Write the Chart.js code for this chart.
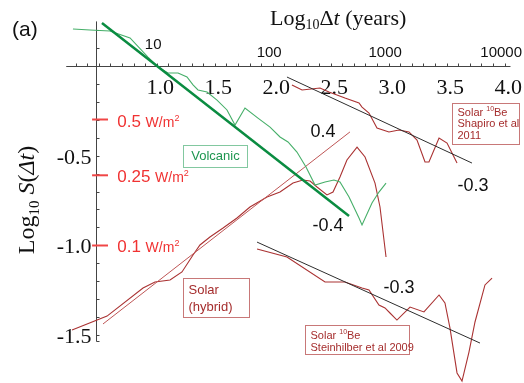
<!DOCTYPE html>
<html>
<head>
<meta charset="utf-8">
<script src="https://cdn.jsdelivr.net/npm/chart.js@4.4.0/dist/chart.umd.min.js"></script>
<style>
  html, body { margin: 0; padding: 0; background: #fff; }
</style>
</head>
<body>
<canvas id="sdtChart" width="524" height="383"></canvas>
<script>
// x: log10 of the time scale in years, y: log10 S(dt)
var volcanic = [[0.278,0.203],[0.425,0.197],[0.597,0.192],[0.770,0.153],[0.925,0.047],[1.011,-0.008],
  [1.097,-0.042],[1.184,-0.042],[1.261,-0.064],[1.313,-0.108],[1.356,-0.136],[1.434,-0.147],[1.520,-0.192],
  [1.606,-0.247],[1.675,-0.331],[1.761,-0.236],[1.873,-0.292],[1.977,-0.342],[2.063,-0.397],[2.132,-0.425],
  [2.209,-0.481],[2.287,-0.564],[2.365,-0.664],[2.451,-0.647],[2.528,-0.636],[2.580,-0.647],[2.658,-0.731],
  [2.744,-0.847],[2.770,-0.886],[2.856,-0.764],[2.916,-0.703],[2.977,-0.653]];
var volcanicFit = [[0.528,0.236],[2.658,-0.836]];

var solarHybrid = [[0.270,-1.469],[0.572,-1.392],[0.882,-1.236],[0.985,-1.203],[1.115,-1.192],[1.218,-1.147],
  [1.313,-1.053],[1.373,-0.997],[1.459,-0.953],[1.572,-0.903],[1.692,-0.847],[1.804,-0.786],[1.951,-0.731],
  [2.063,-0.703],[2.175,-0.653],[2.261,-0.636],[2.322,-0.642],[2.382,-0.675],[2.468,-0.719],[2.520,-0.703],
  [2.580,-0.619],[2.640,-0.525],[2.727,-0.453],[2.796,-0.508],[2.882,-0.653],[2.925,-0.786],[2.977,-1.064]];
var solarHybridFit = [[0.537,-1.436],[2.666,-0.369]];

var shapiro = [[2.166,-0.108],[2.253,-0.136],[2.408,-0.125],[2.485,-0.147],[2.623,-0.181],[2.744,-0.208],
  [2.770,-0.231],[2.830,-0.264],[2.899,-0.347],[3.002,-0.369],[3.089,-0.358],[3.175,-0.369],[3.244,-0.414],
  [3.313,-0.536],[3.347,-0.536],[3.434,-0.403],[3.503,-0.431],[3.589,-0.542]];
var shapiroFit = [[2.123,-0.064],[3.718,-0.542]];

var steinhilber = [[1.865,-1.019],[2.123,-1.064],[2.451,-1.203],[2.623,-1.203],[2.770,-1.236],[2.830,-1.247],
  [2.916,-1.331],[2.968,-1.347],[3.011,-1.375],[3.071,-1.414],[3.184,-1.342],[3.304,-1.369],[3.434,-1.275],
  [3.485,-1.319],[3.528,-1.458],[3.589,-1.708],[3.632,-1.753],[3.692,-1.592],[3.744,-1.425],[3.830,-1.219],
  [3.891,-1.181]];
var steinhilberFit = [[1.865,-0.981],[3.787,-1.542]];

var logTicks = [1.0, 1.5, 2.0, 2.5, 3.0, 3.5, 4.0];
var yearTicks = [10, 100, 1000, 10000];
var sTicks = [-0.5, -1.0, -1.5];
var forcingLevels = [-0.30, -0.61, -1.0];
var forcingLabels = ['0.5', '0.25', '0.1'];
var AXIS_X0 = Math.log10(3); // vertical axis sits at 3 years

var SERIF = '"Liberation Serif", "DejaVu Serif", serif';
var SANS = '"Liberation Sans", Arial, sans-serif';

function series(points, color, width) {
  return {
    data: points.map(function (p) { return { x: p[0], y: p[1] }; }),
    borderColor: color, borderWidth: width, showLine: true,
    pointRadius: 0, fill: false, tension: 0
  };
}

// draws a row of text runs (font / vertical shift per run), returns total width
function drawRuns(ctx, runs, x, y, measureOnly) {
  var w = 0;
  runs.forEach(function (r) {
    ctx.font = r.font;
    if (!measureOnly) ctx.fillText(r.t, x + w, y + (r.dy || 0));
    w += ctx.measureText(r.t).width;
  });
  return w;
}

var axesPlugin = {
  id: 'axes',
  beforeDatasetsDraw: function (chart) {
    var ctx = chart.ctx, xs = chart.scales.x, ys = chart.scales.y;
    var X = function (v) { return xs.getPixelForValue(v); };
    var Y = function (v) { return ys.getPixelForValue(v); };
    ctx.save();
    ctx.strokeStyle = '#444';
    ctx.lineWidth = 1;
    ctx.beginPath();
    var y0 = Math.round(Y(0)) + 0.5;
    ctx.moveTo(X(0.22), y0);
    ctx.lineTo(X(4.05), y0);
    for (var t = 3; t <= 40; t++) {
      var px = Math.round(X(t / 10)) + 0.5;
      ctx.moveTo(px, y0);
      ctx.lineTo(px, y0 - 3);
    }
    var x0 = Math.round(X(AXIS_X0)) + 0.5;
    var yBot = Math.round(Y(-1.53)) + 0.5;
    ctx.moveTo(x0, Y(0.245));
    ctx.lineTo(x0, yBot);
    ctx.lineTo(x0 + 3, yBot);
    for (var s = 2; s >= -15; s--) {
      var py = Math.round(Y(s / 10)) + 0.5;
      ctx.moveTo(x0, py);
      ctx.lineTo(x0 + 3, py);
    }
    ctx.stroke();

    ctx.fillStyle = '#111';
    ctx.textBaseline = 'alphabetic';
    ctx.font = '22px ' + SERIF;
    ctx.textAlign = 'center';
    logTicks.forEach(function (v) {
      ctx.fillText(v.toFixed(1), X(v) + 3.5, y0 + 27);
    });
    ctx.textAlign = 'right';
    sTicks.forEach(function (v) {
      ctx.fillText(v.toFixed(1), x0 - 5, Y(v) + 8);
    });
    ctx.textAlign = 'center';
    ctx.font = '15px ' + SANS;
    yearTicks.forEach(function (v) {
      var lift = v === 10 ? 8 : 0;
      ctx.fillText(String(v), X(Math.log10(v)) - 3.5, y0 - 10 - lift);
    });

    // axis titles
    ctx.textAlign = 'left';
    var xTitle = [
      { t: 'Log', font: '22px ' + SERIF },
      { t: '10', font: '14px ' + SERIF, dy: 4 },
      { t: '\u0394', font: '22px ' + SERIF },
      { t: 't', font: 'italic 22px ' + SERIF },
      { t: ' (years)', font: '22px ' + SERIF }
    ];
    drawRuns(ctx, xTitle, 270, 25);

    var yTitle = [
      { t: 'Log', font: '24px ' + SERIF },
      { t: '10', font: '15px ' + SERIF, dy: 5 },
      { t: ' ', font: '24px ' + SERIF },
      { t: 'S', font: 'italic 24px ' + SERIF },
      { t: '(', font: '24px ' + SERIF },
      { t: '\u0394t', font: 'italic 24px ' + SERIF },
      { t: ')', font: '24px ' + SERIF }
    ];
    ctx.save();
    ctx.translate(34, 200);
    ctx.rotate(-Math.PI / 2);
    var w = drawRuns(ctx, yTitle, 0, 0, true);
    drawRuns(ctx, yTitle, -w / 2, 0);
    ctx.restore();

    ctx.font = '21px ' + SANS;
    ctx.fillText('(a)', 12, 36);
    ctx.restore();
  }
};

var notesPlugin = {
  id: 'notes',
  afterDatasetsDraw: function (chart) {
    var ctx = chart.ctx, xs = chart.scales.x, ys = chart.scales.y;
    var X = function (v) { return xs.getPixelForValue(v); };
    var Y = function (v) { return ys.getPixelForValue(v); };
    ctx.save();
    ctx.textBaseline = 'alphabetic';
    ctx.textAlign = 'left';

    // forcing amplitude markers on the S axis
    ctx.strokeStyle = 'rgb(240,70,70)';
    ctx.fillStyle = 'rgb(240,50,50)';
    ctx.lineWidth = 2;
    forcingLevels.forEach(function (v, i) {
      var py = Y(v);
      ctx.beginPath();
      ctx.moveTo(X(0.443), py);
      ctx.lineTo(X(0.580), py);
      ctx.stroke();
      drawRuns(ctx, [
        { t: forcingLabels[i] + ' ', font: '17px ' + SANS },
        { t: 'W/m', font: '14px ' + SANS },
        { t: '2', font: '9px ' + SANS, dy: -6 }
      ], X(0.66), py + 7);
    });

    // fitted slopes
    ctx.fillStyle = '#111';
    ctx.font = '18px ' + SANS;
    ctx.textAlign = 'center';
    ctx.textBaseline = 'middle';
    [['0.4', 2.434, -0.369], ['-0.4', 2.477, -0.892], ['-0.3', 3.727, -0.669], ['-0.3', 3.088, -1.236]]
      .forEach(function (n) { ctx.fillText(n[0], X(n[1]), Y(n[2])); });

    // series boxes: corners in data units, text lines offset from the top edge
    function box(x1, y1, x2, y2, lines, color, border, font, first, gap, centred) {
      var l = Math.round(X(x1)) + 0.5, t = Math.round(Y(y1)) + 0.5;
      var r = Math.round(X(x2)) + 0.5, b = Math.round(Y(y2)) + 0.5;
      ctx.fillStyle = '#fff';
      ctx.fillRect(l, t, r - l, b - t);
      ctx.strokeStyle = border;
      ctx.lineWidth = 1;
      ctx.strokeRect(l, t, r - l, b - t);
      ctx.fillStyle = color;
      ctx.textBaseline = 'middle';
      lines.forEach(function (runs, i) {
        var ty = t + first + i * gap;
        if (centred) {
          var w = drawRuns(ctx, runs, 0, 0, true);
          drawRuns(ctx, runs, (l + r) / 2 - w / 2, ty);
        } else {
          drawRuns(ctx, runs, l + 5, ty);
        }
      });
    }
    ctx.textAlign = 'left';
    var f13 = '13px ' + SANS, f11 = '11px ' + SANS, f7 = '7px ' + SANS;
    var red = 'rgb(165,45,45)', redBorder = 'rgb(200,120,120)';
    box(1.227, -0.442, 1.778, -0.564, [[{ t: 'Volcanic', font: f13 }]],
      'rgb(30,150,80)', 'rgb(130,200,160)', f13, 11, 0, true);
    box(1.227, -1.181, 1.796, -1.397, [[{ t: 'Solar', font: f13 }], [{ t: '(hybrid)', font: f13 }]],
      red, redBorder, f13, 12, 17, false);
    box(3.546, -0.208, 4.124, -0.436, [
      [{ t: 'Solar ', font: f11 }, { t: '10', font: f7, dy: -3 }, { t: 'Be', font: f11 }],
      [{ t: 'Shapiro et al', font: f11 }],
      [{ t: '2011', font: f11 }]
    ], red, redBorder, f11, 9, 11.5, false);
    box(2.278, -1.442, 3.175, -1.603, [
      [{ t: 'Solar ', font: f11 }, { t: '10', font: f7, dy: -3 }, { t: 'Be', font: f11 }],
      [{ t: 'Steinhilber et al 2009', font: f11 }]
    ], red, redBorder, f11, 10, 12, false);
    ctx.restore();
  }
};

var CHART = new Chart(document.getElementById('sdtChart'), {
  type: 'scatter',
  data: {
    datasets: [
      series(volcanicFit, 'rgb(10,140,65)', 2.5),
      series(volcanic, 'rgb(70,175,105)', 1.1),
      series(solarHybridFit, 'rgb(190,85,85)', 1),
      series(solarHybrid, 'rgb(170,50,50)', 1.1),
      series(shapiroFit, 'rgb(45,45,45)', 1),
      series(shapiro, 'rgb(170,50,50)', 1.1),
      series(steinhilberFit, 'rgb(45,45,45)', 1),
      series(steinhilber, 'rgb(170,50,50)', 1.1)
    ]
  },
  options: {
    responsive: false,
    animation: false,
    layout: { padding: 0 },
    plugins: { legend: { display: false }, tooltip: { enabled: false } },
    scales: {
      x: { type: 'linear', display: false, min: -0.3509, max: 4.1664 },
      y: { type: 'linear', display: false, min: -1.7639, max: 0.3639 }
    }
  },
  plugins: [axesPlugin, notesPlugin]
});
</script>
</body>
</html>
